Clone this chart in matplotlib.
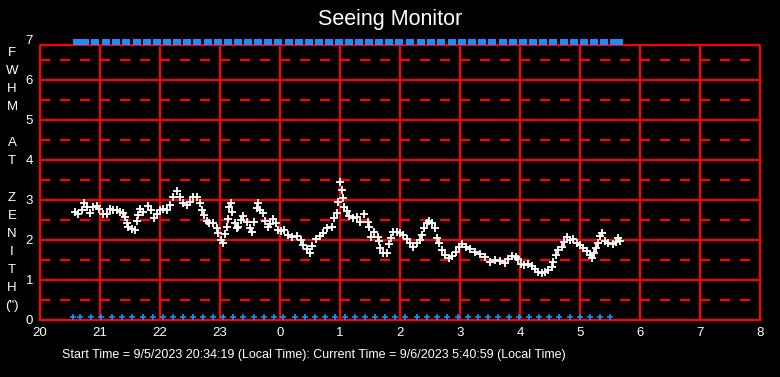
import matplotlib
matplotlib.use("Agg")
import matplotlib.pyplot as plt
import numpy as np

plt.rcParams['font.family'] = ['Liberation Sans', 'DejaVu Sans']

# minutes after 20:00 local time, FWHM (arcsec)
minutes = [35, 38, 42, 44, 47, 50, 53, 57, 59, 63, 67, 70, 73, 77, 80, 83, 85, 87, 88, 92,
           95, 97, 98, 100, 103, 108, 111, 114, 117, 120, 123, 127, 130, 133, 137, 140, 143,
           147, 150, 153, 157, 160, 162, 164, 167, 169, 173, 177, 178, 181, 183, 185, 187,
           188, 189, 191, 192, 195, 197, 198, 201, 203, 207, 210, 212, 214, 217, 218, 220,
           223, 225, 228, 230, 233, 236, 238, 241, 244, 248, 252, 257, 261, 263, 267, 270,
           272, 276, 280, 283, 287, 292, 294, 297, 298, 300, 302, 303, 304, 307, 309, 313,
           317, 320, 324, 328, 329, 331, 334, 338, 339, 340, 343, 347, 349, 351, 353, 357,
           360, 363, 367, 370, 373, 377, 380, 382, 384, 387, 389, 392, 395, 397, 399, 402,
           405, 409, 412, 416, 419, 422, 426, 430, 435, 440, 445, 450, 455, 460, 465, 468,
           472, 476, 478, 481, 484, 488, 492, 495, 498, 502, 505, 508, 512, 513, 516, 518,
           522, 524, 527, 530, 533, 537, 540, 543, 547, 550, 552, 554, 556, 558, 560, 562,
           565, 568, 573, 576, 578, 580]
fwhm = [2.71, 2.65, 2.75, 2.92, 2.83, 2.68, 2.82, 2.85, 2.78, 2.65, 2.65, 2.78, 2.75, 2.75,
        2.70, 2.68, 2.58, 2.42, 2.33, 2.27, 2.25, 2.48, 2.62, 2.77, 2.70, 2.85, 2.75, 2.55,
        2.65, 2.75, 2.77, 2.75, 2.87, 3.08, 3.23, 3.08, 2.93, 2.88, 2.95, 3.08, 3.08, 2.92,
        2.75, 2.63, 2.48, 2.42, 2.42, 2.30, 2.17, 2.00, 1.92, 2.15, 2.33, 2.52, 2.83, 2.92,
        2.70, 2.42, 2.30, 2.33, 2.50, 2.60, 2.45, 2.30, 2.20, 2.45, 2.80, 2.92, 2.75, 2.67,
        2.47, 2.33, 2.40, 2.52, 2.42, 2.25, 2.22, 2.25, 2.12, 2.08, 2.10, 2.00, 1.87, 1.77,
        1.68, 1.85, 2.02, 2.10, 2.17, 2.30, 2.33, 2.55, 2.67, 2.95, 3.46, 3.25, 3.04, 2.83,
        2.72, 2.60, 2.54, 2.58, 2.46, 2.65, 2.46, 2.32, 2.08, 2.20, 2.08, 1.98, 1.80, 1.67,
        1.68, 1.90, 2.04, 2.20, 2.19, 2.17, 2.13, 2.02, 1.92, 1.83, 1.93, 2.00, 2.13, 2.29,
        2.42, 2.48, 2.42, 2.29, 2.04, 1.92, 1.75, 1.62, 1.54, 1.60, 1.71, 1.83, 1.90, 1.83,
        1.77, 1.71, 1.65, 1.57, 1.46, 1.50, 1.48, 1.43, 1.52, 1.60, 1.57, 1.52, 1.40, 1.38,
        1.40, 1.35, 1.27, 1.21, 1.18, 1.21, 1.25, 1.33, 1.46, 1.62, 1.75, 1.83, 1.96, 2.07,
        2.00, 2.02, 1.93, 1.88, 1.79, 1.73, 1.62, 1.54, 1.67, 1.79, 1.93, 2.10, 2.18, 1.98,
        1.93, 1.90, 1.96, 2.04, 1.98]

# blue status marks (minutes after 20:00)
bottom_marks = [33, 40, 51, 61, 72, 82, 92, 103, 113, 123, 133, 143, 153, 163, 173, 183, 193,
                203, 214, 224, 234, 243, 255, 265, 275, 285, 295, 305, 315, 325, 335, 345, 355,
                365, 377, 387, 397, 407, 418, 428, 438, 448, 458, 469, 479, 489, 499, 509, 519,
                530, 540, 550, 560, 570]
top_marks = [37, 45, 55, 66, 76, 86, 97, 107, 117, 127, 137, 147, 157, 168, 178, 188, 198, 208,
             218, 228, 238, 249, 259, 269, 279, 289, 299, 309, 319, 329, 339, 349, 359, 370,
             381, 391, 401, 412, 422, 432, 442, 452, 463, 473, 483, 493, 503, 513, 524, 534,
             544, 554, 564, 574, 579]

hour_labels = ['20', '21', '22', '23', '0', '1', '2', '3', '4', '5', '6', '7', '8']
ylabel_chars = ['F', 'W', 'H', 'M', '', 'A', 'T', '', 'Z', 'E', 'N', 'I', 'T', 'H', '(")']

W, H = 780, 377
fig = plt.figure(figsize=(7.8, 3.77), dpi=100, facecolor='black')
ax = fig.add_axes([40 / W, 1 - 320 / H, 720 / W, 280 / H], facecolor='black')

x = 20 + np.array(minutes) / 60
xb = 20 + np.array(bottom_marks) / 60
xt = 20 + np.array(top_marks) / 60

red = '#ff0000'
top = 6.875
ax.vlines(range(20, 33), 0, top, color=red, lw=1.6, zorder=1, clip_on=False)
for v in range(1, 7):
    ax.axhline(v, color=red, lw=1.6, zorder=1)
for v in np.arange(0.5, 7, 1.0):
    ax.axhline(v, color=red, lw=1.6, dashes=(4.5, 4.5), zorder=1)
ax.axhline(top, color=red, lw=1.6, zorder=1)

ax.plot(x, fwhm, ls='none', marker='+', ms=6, mew=1.3, color='white', zorder=3)
ax.plot(xb, np.full(len(xb), 0.07), ls='none', marker='+', ms=5, mew=1.2,
        color='#1e8cff', zorder=3, clip_on=False)
rect = [(-1, -0.6), (1, -0.6), (1, 0.6), (-1, 0.6), (-1, -0.6)]
ax.plot(xt, np.full(len(xt), 6.94), ls='none', marker=rect, ms=6.2, mew=0,
        color='#1e8cff', zorder=3, clip_on=False)

ax.set_xlim(20, 32)
ax.set_ylim(0, 7)
ax.set_xticks(range(20, 33))
ax.set_xticklabels(hour_labels)
ax.set_yticks(range(0, 8))
ax.tick_params(length=0, colors='white', labelsize=9.5)
ax.tick_params(axis='x', pad=5)
ax.tick_params(axis='y', pad=5)
for s in ['top', 'left', 'right']:
    ax.spines[s].set_visible(False)
ax.spines['bottom'].set_color(red)
ax.spines['bottom'].set_linewidth(1.6)

fig.text(0.5, 1 - 20 / H, 'Seeing Monitor', color='white', fontsize=15.5,
         ha='center', va='center')
for i, ch in enumerate(ylabel_chars):
    if ch:
        fig.text(12 / W, 1 - (53 + i * 18.07) / H, ch, color='white', fontsize=9.5,
                 ha='center', va='center')
fig.text(62 / W, 1 - 355 / H,
         'Start Time = 9/5/2023 20:34:19 (Local Time): Current Time = 9/6/2023 5:40:59 (Local Time)',
         color='white', fontsize=9, ha='left', va='center')

fig.savefig('out.png', dpi=100, facecolor='black')
